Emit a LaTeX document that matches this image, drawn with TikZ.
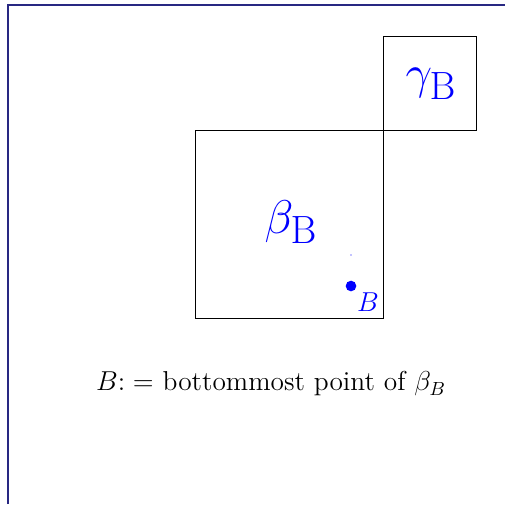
\documentclass[tikz,border=0pt]{standalone}
\usepackage{amsmath}
\usetikzlibrary{positioning}
\definecolor{frameNavy}{RGB}{40,40,130}
\begin{document}
\begin{tikzpicture}[
    x=0.5263pt, y=-0.5263pt,
    box/.style={draw=black, line width=0.5pt},
    region/.style={text=blue, font=\Huge, inner sep=0pt},
    ptlabel/.style={text=blue, inner sep=0pt, font=\Large},
    caption/.style={font=\Large, inner sep=0pt}
  ]
  \useasboundingbox (0,0) rectangle (505,504);
  % frame edge
  \draw[frameNavy, line width=0.7pt] (8,504) -- (8,5) -- (505,5);

  % the two squares
  \draw[box] (195,130) rectangle (383,318);
  \draw[box] (383,36) rectangle (476,130);

  \node[region] (beta) at (291,222) {$\beta_{\mathrm{B}}$};
  \node[region] (gamma) at (431,84) {$\gamma_{\mathrm{B}}$};

  % point B
  \coordinate (ptB) at (351,286);
  \coordinate (tick) at (351,255);
  \fill[blue] (ptB) circle (2.8pt);
  \fill[blue] (tick) circle (0.35pt);
  \node[ptlabel] (lblB) at (368,302) {$B$};

  \node[caption] (note) at (271,384) {$B{:}=$ bottommost point of $\beta_B$};
\end{tikzpicture}
\end{document}
